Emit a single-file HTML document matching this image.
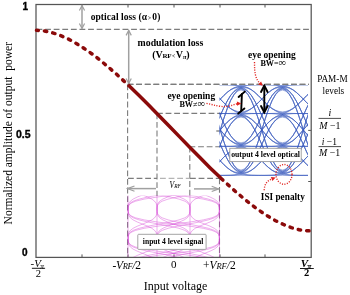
<!DOCTYPE html>
<html><head><meta charset="utf-8"><style>
html,body{margin:0;padding:0;background:#fff;}
svg{display:block;}
text{fill:#000;}
</style></head><body>
<svg width="350" height="295" viewBox="0 0 350 295">
<rect x="36.0" y="4.5" width="275.2" height="252.89999999999998" fill="none" stroke="#555555" stroke-width="1.25"/>
<line x1="82" y1="4.5" x2="82" y2="7.5" stroke="#555555" stroke-width="1"/>
<line x1="82" y1="257.4" x2="82" y2="254.39999999999998" stroke="#555555" stroke-width="1"/>
<line x1="128" y1="4.5" x2="128" y2="7.5" stroke="#555555" stroke-width="1"/>
<line x1="128" y1="257.4" x2="128" y2="254.39999999999998" stroke="#555555" stroke-width="1"/>
<line x1="174" y1="4.5" x2="174" y2="7.5" stroke="#555555" stroke-width="1"/>
<line x1="174" y1="257.4" x2="174" y2="254.39999999999998" stroke="#555555" stroke-width="1"/>
<line x1="220" y1="4.5" x2="220" y2="7.5" stroke="#555555" stroke-width="1"/>
<line x1="220" y1="257.4" x2="220" y2="254.39999999999998" stroke="#555555" stroke-width="1"/>
<line x1="265" y1="4.5" x2="265" y2="7.5" stroke="#555555" stroke-width="1"/>
<line x1="265" y1="257.4" x2="265" y2="254.39999999999998" stroke="#555555" stroke-width="1"/>
<line x1="216.3" y1="131" x2="219.7" y2="131" stroke="#555" stroke-width="1"/>
<line x1="311.2" y1="130.4" x2="308.2" y2="130.4" stroke="#555555" stroke-width="1"/>
<line x1="311.2" y1="181.5" x2="308.2" y2="181.5" stroke="#555555" stroke-width="1"/>
<line x1="36.5" y1="29.4" x2="311" y2="29.4" stroke="#7c7c7c" stroke-width="1.1" stroke-dasharray="5.8 2.8"/>
<line x1="127.6" y1="84.4" x2="309" y2="84.4" stroke="#7c7c7c" stroke-width="1.1" stroke-dasharray="5.8 2.8"/>
<line x1="157" y1="113.4" x2="222" y2="113.4" stroke="#7c7c7c" stroke-width="1.1" stroke-dasharray="5.8 2.8"/>
<line x1="189.5" y1="146.7" x2="222" y2="146.7" stroke="#7c7c7c" stroke-width="1.1" stroke-dasharray="5.8 2.8"/>
<line x1="128" y1="178.4" x2="157" y2="178.4" stroke="#7c7c7c" stroke-width="1.1" stroke-dasharray="5.8 2.8"/>
<line x1="190" y1="178.4" x2="220" y2="178.4" stroke="#7c7c7c" stroke-width="1.1" stroke-dasharray="5.8 2.8"/>
<line x1="127.6" y1="84.4" x2="127.6" y2="257" stroke="#7c7c7c" stroke-width="1.1" stroke-dasharray="5.8 2.8"/>
<line x1="157" y1="113.4" x2="157" y2="196" stroke="#7c7c7c" stroke-width="1.1" stroke-dasharray="5.8 2.8"/>
<line x1="189.8" y1="146.7" x2="189.8" y2="196" stroke="#7c7c7c" stroke-width="1.1" stroke-dasharray="5.8 2.8"/>
<line x1="219.5" y1="178.4" x2="219.5" y2="257" stroke="#7c7c7c" stroke-width="1.1" stroke-dasharray="5.8 2.8"/>
<line x1="157" y1="178.4" x2="190" y2="178.4" stroke="#b4b4b4" stroke-width="1.1" stroke-dasharray="5.8 2.8" stroke-dashoffset="-3"/>
<line x1="82" y1="5.5" x2="82" y2="28.5" stroke="#a0a0a0" stroke-width="1.5"/>
<polyline points="84.6,10.5 82,5.5 79.4,10.5" fill="none" stroke="#a0a0a0" stroke-width="1.2"/>
<polyline points="79.4,23.5 82,28.5 84.6,23.5" fill="none" stroke="#a0a0a0" stroke-width="1.2"/>
<line x1="128.7" y1="30.4" x2="128.7" y2="83.5" stroke="#a0a0a0" stroke-width="1.5"/>
<polyline points="131.3,35.4 128.7,30.4 126.1,35.4" fill="none" stroke="#a0a0a0" stroke-width="1.2"/>
<polyline points="126.1,78.5 128.7,83.5 131.3,78.5" fill="none" stroke="#a0a0a0" stroke-width="1.2"/>
<line x1="127.5" y1="188.6" x2="156" y2="188.6" stroke="#a0a0a0" stroke-width="1.5"/>
<polyline points="134.5,186.0 127.5,188.6 134.5,191.2" fill="none" stroke="#a0a0a0" stroke-width="1.2"/>
<line x1="194" y1="188.9" x2="218.7" y2="188.9" stroke="#a0a0a0" stroke-width="1.5"/>
<polyline points="211.7,191.5 218.7,188.9 211.7,186.3" fill="none" stroke="#a0a0a0" stroke-width="1.2"/>
<defs><clipPath id="cp"><rect x="126" y="195.5" width="96" height="61.5"/></clipPath>
<path id="pseg" d="M128.0 0.0 128.1 2.1 128.3 4.2 128.9 6.3 130.4 8.3 133.1 10.4 137.3 12.5 142.5 14.6 147.7 16.7 151.9 18.8 154.6 20.9 156.1 22.9 156.7 25.0 156.9 27.1 157.0 29.2 M128.1 0.0 128.0 2.1 128.0 4.2 128.0 6.3 128.0 8.3 128.0 10.4 128.0 12.5 128.0 14.6 128.0 16.7 128.0 18.8 128.0 20.9 128.0 22.9 128.0 25.0 128.0 27.1 128.0 29.2 M128.1 0.0 128.2 2.1 128.6 4.2 130.0 6.3 133.1 8.3 139.0 10.4 147.9 12.5 159.0 14.6 170.1 16.7 179.0 18.8 184.9 20.9 188.0 22.9 189.4 25.0 189.8 27.1 189.9 29.2 M128.1 0.0 128.3 2.1 128.9 4.2 130.9 6.3 135.5 8.3 144.2 10.4 157.4 12.5 173.7 14.6 190.1 16.7 203.3 18.8 212.0 20.9 216.6 22.9 218.6 25.0 219.2 27.1 219.4 29.2 M157.0 0.0 156.9 2.1 156.7 4.2 156.1 6.3 154.6 8.3 151.9 10.4 147.7 12.5 142.5 14.6 137.3 16.7 133.1 18.8 130.4 20.9 128.9 22.9 128.3 25.0 128.1 27.1 128.1 29.2 M157.0 0.0 157.0 2.1 157.0 4.2 157.0 6.3 157.0 8.3 157.0 10.4 157.0 12.5 157.0 14.6 157.0 16.7 157.0 18.8 157.0 20.9 157.0 22.9 157.0 25.0 157.0 27.1 157.0 29.2 M157.0 0.0 157.1 2.1 157.3 4.2 158.1 6.3 159.7 8.3 162.8 10.4 167.6 12.5 173.5 14.6 179.4 16.7 184.2 18.8 187.3 20.9 188.9 22.9 189.7 25.0 189.9 27.1 190.0 29.2 M157.1 0.0 157.2 2.1 157.6 4.2 159.0 6.3 162.1 8.3 168.1 10.4 177.1 12.5 188.3 14.6 199.4 16.7 208.4 18.8 214.4 20.9 217.5 22.9 218.9 25.0 219.3 27.1 219.4 29.2 M189.9 0.0 189.8 2.1 189.4 4.2 188.0 6.3 184.9 8.3 179.0 10.4 170.1 12.5 159.0 14.6 147.9 16.7 139.0 18.8 133.1 20.9 130.0 22.9 128.6 25.0 128.2 27.1 128.1 29.2 M190.0 0.0 189.9 2.1 189.7 4.2 188.9 6.3 187.3 8.3 184.2 10.4 179.4 12.5 173.5 14.6 167.6 16.7 162.8 18.8 159.7 20.9 158.1 22.9 157.3 25.0 157.1 27.1 157.1 29.2 M190.0 0.0 190.0 2.1 190.0 4.2 190.0 6.3 190.0 8.3 190.0 10.4 190.0 12.5 190.0 14.6 190.0 16.7 190.0 18.8 190.0 20.9 190.0 22.9 190.0 25.0 190.0 27.1 190.0 29.2 M190.0 0.0 190.1 2.1 190.3 4.2 190.9 6.3 192.4 8.3 195.2 10.4 199.5 12.5 204.7 14.6 210.0 16.7 214.3 18.8 217.1 20.9 218.6 22.9 219.2 25.0 219.4 27.1 219.5 29.2 M219.4 0.0 219.3 2.1 218.6 4.2 216.6 6.3 212.0 8.3 203.3 10.4 190.1 12.5 173.7 14.6 157.4 16.7 144.2 18.8 135.5 20.9 130.9 22.9 128.9 25.0 128.2 27.1 128.1 29.2 M219.4 0.0 219.3 2.1 218.9 4.2 217.5 6.3 214.4 8.3 208.4 10.4 199.4 12.5 188.2 14.6 177.1 16.7 168.1 18.8 162.1 20.9 159.0 22.9 157.6 25.0 157.2 27.1 157.0 29.2 M219.4 0.0 219.4 2.1 219.2 4.2 218.6 6.3 217.1 8.3 214.3 10.4 210.0 12.5 204.7 14.6 199.5 16.7 195.2 18.8 192.4 20.9 190.9 22.9 190.3 25.0 190.1 27.1 190.0 29.2 M219.5 0.0 219.5 2.1 219.5 4.2 219.5 6.3 219.5 8.3 219.5 10.4 219.5 12.5 219.5 14.6 219.5 16.7 219.5 18.8 219.5 20.9 219.5 22.9 219.5 25.0 219.5 27.1 219.4 29.2" fill="none" stroke="#d43cd4" stroke-width="0.55" stroke-opacity="0.75"/></defs>
<g clip-path="url(#cp)">
<use href="#pseg" y="180.3"/>
<use href="#pseg" y="209.5"/>
<use href="#pseg" y="238.7"/>
</g>
<defs><clipPath id="cb"><rect x="219.5" y="85.1" width="88.5" height="90.8"/></clipPath>
<path id="bseg" d="M0.0 84.7 3.5 84.7 6.9 84.7 10.4 84.7 13.8 84.7 17.3 84.7 20.8 84.7 24.2 84.7 27.7 84.7 31.1 84.8 34.6 84.9 38.0 85.1 41.5 85.6 M0.0 85.6 3.5 85.1 6.9 84.9 10.4 84.8 13.8 84.7 17.3 84.7 20.8 84.7 24.2 84.7 27.7 84.8 31.1 84.8 34.6 85.1 38.0 85.6 41.5 86.5 M0.0 85.6 3.5 86.4 6.9 87.7 10.4 89.7 13.8 92.3 17.3 95.5 20.8 99.1 24.2 102.6 27.7 105.9 31.1 108.5 34.6 110.3 38.0 111.4 41.5 111.8 M0.0 86.4 3.5 86.8 6.9 87.9 10.4 89.7 13.8 92.3 17.3 95.6 20.8 99.1 24.2 102.7 27.7 105.9 31.1 108.6 34.6 110.7 38.0 112.3 41.5 113.6 M0.0 86.5 3.5 85.6 6.9 85.1 10.4 84.8 13.8 84.8 17.3 84.7 20.8 84.7 24.2 84.7 27.7 84.8 31.1 84.9 34.6 85.2 38.0 86.0 41.5 87.4 M0.0 86.5 3.5 88.3 6.9 91.1 10.4 95.4 13.8 101.0 17.3 107.9 20.8 115.5 24.2 123.1 27.7 130.0 31.1 135.6 34.6 139.6 38.0 142.0 41.5 142.7 M0.0 87.4 3.5 86.0 6.9 85.2 10.4 84.9 13.8 84.8 17.3 84.7 20.8 84.7 24.2 84.7 27.7 84.7 31.1 84.7 34.6 84.7 38.0 84.7 41.5 84.7 M0.0 87.4 3.5 87.2 6.9 88.1 10.4 89.8 13.8 92.4 17.3 95.6 20.8 99.1 24.2 102.7 27.7 105.9 31.1 108.7 34.6 110.9 38.0 112.7 41.5 114.5 M0.0 87.4 3.5 88.7 6.9 91.3 10.4 95.4 13.8 101.1 17.3 107.9 20.8 115.6 24.2 123.2 27.7 130.1 31.1 135.7 34.6 140.0 38.0 142.8 41.5 144.6 M0.0 87.4 3.5 90.0 6.9 94.2 10.4 100.4 13.8 108.7 17.3 118.9 20.8 130.0 24.2 141.2 27.7 151.3 31.1 159.5 34.6 165.4 38.0 168.9 41.5 170.0 M0.0 88.2 3.5 87.6 6.9 88.2 10.4 89.9 13.8 92.4 17.3 95.6 20.8 99.1 24.2 102.7 27.7 105.9 31.1 108.5 34.6 110.5 38.0 111.8 41.5 112.6 M0.0 88.2 3.5 90.4 6.9 94.3 10.4 100.4 13.8 108.7 17.3 118.9 20.8 130.0 24.2 141.2 27.7 151.4 31.1 159.7 34.6 165.8 38.0 169.7 41.5 171.9 M0.0 88.4 3.5 89.1 6.9 91.5 10.4 95.5 13.8 101.1 17.3 108.0 20.8 115.6 24.2 123.2 27.7 130.1 31.1 135.8 34.6 140.1 38.0 143.2 41.5 145.4 M0.0 89.2 3.5 89.5 6.9 91.7 10.4 95.6 13.8 101.1 17.3 108.0 20.8 115.6 24.2 123.2 27.7 130.0 31.1 135.7 34.6 139.8 38.0 142.4 41.5 143.6 M0.0 89.2 3.5 90.8 6.9 94.5 10.4 100.5 13.8 108.8 17.3 118.9 20.8 130.1 24.2 141.2 27.7 151.4 31.1 159.7 34.6 165.9 38.0 170.1 41.5 172.7 M0.0 90.1 3.5 91.2 6.9 94.7 10.4 100.6 13.8 108.8 17.3 118.9 20.8 130.1 24.2 141.2 27.7 151.3 31.1 159.6 34.6 165.6 38.0 169.3 41.5 170.9 M0.0 111.8 3.5 111.4 6.9 110.3 10.4 108.5 13.8 105.9 17.3 102.6 20.8 99.1 24.2 95.5 27.7 92.3 31.1 89.7 34.6 87.7 38.0 86.4 41.5 85.6 M0.0 112.6 3.5 111.8 6.9 110.5 10.4 108.5 13.8 105.9 17.3 102.7 20.8 99.1 24.2 95.6 27.7 92.3 31.1 89.7 34.6 87.9 38.0 86.8 41.5 86.4 M0.0 112.6 3.5 113.1 6.9 113.3 10.4 113.4 13.8 113.5 17.3 113.5 20.8 113.5 24.2 113.5 27.7 113.5 31.1 113.4 34.6 113.3 38.0 113.1 41.5 112.6 M0.0 113.5 3.5 113.5 6.9 113.5 10.4 113.5 13.8 113.5 17.3 113.5 20.8 113.5 24.2 113.5 27.7 113.5 31.1 113.6 34.6 113.7 38.0 114.0 41.5 114.5 M0.0 113.6 3.5 112.3 6.9 110.7 10.4 108.6 13.8 105.9 17.3 102.7 20.8 99.1 24.2 95.6 27.7 92.4 31.1 89.8 34.6 88.1 38.0 87.2 41.5 87.4 M0.0 113.6 3.5 115.0 6.9 116.8 10.4 119.1 13.8 122.2 17.3 125.9 20.8 129.9 24.2 134.0 27.7 137.6 31.1 140.6 34.6 142.6 38.0 143.6 41.5 143.6 M0.0 114.5 3.5 112.7 6.9 110.9 10.4 108.7 13.8 105.9 17.3 102.7 20.8 99.1 24.2 95.6 27.7 92.4 31.1 89.9 34.6 88.2 38.0 87.6 41.5 88.2 M0.0 114.5 3.5 114.0 6.9 113.7 10.4 113.6 13.8 113.5 17.3 113.5 20.8 113.5 24.2 113.5 27.7 113.6 31.1 113.6 34.6 113.9 38.0 114.4 41.5 115.3 M0.0 114.5 3.5 115.4 6.9 116.9 10.4 119.2 13.8 122.2 17.3 125.9 20.8 129.9 24.2 134.0 27.7 137.7 31.1 140.6 34.6 142.8 38.0 144.0 41.5 144.5 M0.0 114.5 3.5 116.7 6.9 119.8 10.4 124.1 13.8 129.9 17.3 136.8 20.8 144.4 24.2 152.1 27.7 158.9 31.1 164.5 34.6 168.4 38.0 170.6 41.5 170.9 M0.0 115.3 3.5 114.4 6.9 113.9 10.4 113.6 13.8 113.6 17.3 113.5 20.8 113.5 24.2 113.5 27.7 113.5 31.1 113.5 34.6 113.5 38.0 113.5 41.5 113.5 M0.0 115.3 3.5 117.1 6.9 120.0 10.4 124.2 13.8 129.9 17.3 136.8 20.8 144.4 24.2 152.1 27.7 159.0 31.1 164.6 34.6 168.6 38.0 171.0 41.5 171.7 M0.0 115.4 3.5 115.9 6.9 117.1 10.4 119.3 13.8 122.2 17.3 125.9 20.8 130.0 24.2 134.0 27.7 137.7 31.1 140.8 34.6 143.1 38.0 144.9 41.5 146.3 M0.0 116.3 3.5 116.3 6.9 117.3 10.4 119.3 13.8 122.3 17.3 125.9 20.8 130.0 24.2 134.0 27.7 137.7 31.1 140.7 34.6 143.0 38.0 144.5 41.5 145.4 M0.0 116.3 3.5 117.5 6.9 120.2 10.4 124.3 13.8 129.9 17.3 136.8 20.8 144.5 24.2 152.1 27.7 159.0 31.1 164.7 34.6 168.9 38.0 171.8 41.5 173.6 M0.0 117.2 3.5 117.9 6.9 120.3 10.4 124.3 13.8 129.9 17.3 136.8 20.8 144.5 24.2 152.1 27.7 159.0 31.1 164.6 34.6 168.8 38.0 171.4 41.5 172.7 M0.0 142.7 3.5 142.0 6.9 139.6 10.4 135.6 13.8 130.0 17.3 123.1 20.8 115.5 24.2 107.9 27.7 101.0 31.1 95.4 34.6 91.1 38.0 88.3 41.5 86.5 M0.0 143.6 3.5 142.4 6.9 139.8 10.4 135.7 13.8 130.0 17.3 123.2 20.8 115.5 24.2 107.9 27.7 101.1 31.1 95.4 34.6 91.3 38.0 88.7 41.5 87.4 M0.0 143.6 3.5 143.6 6.9 142.6 10.4 140.6 13.8 137.6 17.3 134.0 20.8 129.9 24.2 125.9 27.7 122.2 31.1 119.1 34.6 116.8 38.0 115.0 41.5 113.6 M0.0 144.5 3.5 144.0 6.9 142.8 10.4 140.6 13.8 137.7 17.3 134.0 20.8 129.9 24.2 125.9 27.7 122.2 31.1 119.2 34.6 116.9 38.0 115.4 41.5 114.5 M0.0 144.6 3.5 142.8 6.9 140.0 10.4 135.7 13.8 130.1 17.3 123.2 20.8 115.6 24.2 108.0 27.7 101.1 31.1 95.5 34.6 91.5 38.0 89.1 41.5 88.4 M0.0 144.6 3.5 145.5 6.9 146.0 10.4 146.3 13.8 146.3 17.3 146.4 20.8 146.4 24.2 146.4 27.7 146.3 31.1 146.3 34.6 146.0 38.0 145.5 41.5 144.6 M0.0 145.4 3.5 143.2 6.9 140.1 10.4 135.8 13.8 130.1 17.3 123.2 20.8 115.6 24.2 108.0 27.7 101.1 31.1 95.6 34.6 91.7 38.0 89.5 41.5 89.2 M0.0 145.4 3.5 144.5 6.9 143.0 10.4 140.7 13.8 137.7 17.3 134.0 20.8 130.0 24.2 125.9 27.7 122.2 31.1 119.3 34.6 117.1 38.0 115.9 41.5 115.4 M0.0 145.4 3.5 145.9 6.9 146.2 10.4 146.3 13.8 146.4 17.3 146.4 20.8 146.4 24.2 146.4 27.7 146.4 31.1 146.3 34.6 146.2 38.0 145.9 41.5 145.4 M0.0 145.4 3.5 147.2 6.9 149.1 10.4 151.3 13.8 154.0 17.3 157.3 20.8 160.9 24.2 164.5 27.7 167.6 31.1 170.2 34.6 171.8 38.0 172.5 41.5 171.9 M0.0 146.3 3.5 144.9 6.9 143.1 10.4 140.8 13.8 137.7 17.3 134.0 20.8 130.0 24.2 125.9 27.7 122.3 31.1 119.3 34.6 117.3 38.0 116.3 41.5 116.3 M0.0 146.3 3.5 147.6 6.9 149.2 10.4 151.3 13.8 154.0 17.3 157.3 20.8 160.9 24.2 164.5 27.7 167.7 31.1 170.2 34.6 172.0 38.0 172.9 41.5 172.7 M0.0 146.4 3.5 146.4 6.9 146.4 10.4 146.4 13.8 146.4 17.3 146.4 20.8 146.4 24.2 146.4 27.7 146.4 31.1 146.5 34.6 146.6 38.0 146.8 41.5 147.3 M0.0 147.3 3.5 146.8 6.9 146.6 10.4 146.5 13.8 146.4 17.3 146.4 20.8 146.4 24.2 146.4 27.7 146.4 31.1 146.4 34.6 146.4 38.0 146.4 41.5 146.4 M0.0 147.3 3.5 148.1 6.9 149.4 10.4 151.4 13.8 154.1 17.3 157.3 20.8 160.9 24.2 164.5 27.7 167.7 31.1 170.3 34.6 172.2 38.0 173.3 41.5 173.7 M0.0 148.1 3.5 148.5 6.9 149.6 10.4 151.5 13.8 154.1 17.3 157.3 20.8 160.9 24.2 164.5 27.7 167.7 31.1 170.4 34.6 172.4 38.0 173.7 41.5 174.5 M0.0 170.0 3.5 168.9 6.9 165.4 10.4 159.5 13.8 151.3 17.3 141.2 20.8 130.0 24.2 118.9 27.7 108.7 31.1 100.4 34.6 94.3 38.0 90.4 41.5 88.2 M0.0 170.9 3.5 169.3 6.9 165.6 10.4 159.6 13.8 151.3 17.3 141.2 20.8 130.0 24.2 118.9 27.7 108.8 31.1 100.5 34.6 94.5 38.0 90.8 41.5 89.2 M0.0 170.9 3.5 170.6 6.9 168.4 10.4 164.5 13.8 158.9 17.3 152.1 20.8 144.4 24.2 136.8 27.7 129.9 31.1 124.1 34.6 119.8 38.0 116.7 41.5 114.5 M0.0 171.7 3.5 171.0 6.9 168.6 10.4 164.6 13.8 159.0 17.3 152.1 20.8 144.4 24.2 136.8 27.7 129.9 31.1 124.3 34.6 120.2 38.0 117.5 41.5 116.3 M0.0 171.9 3.5 169.7 6.9 165.8 10.4 159.7 13.8 151.4 17.3 141.2 20.8 130.1 24.2 118.9 27.7 108.8 31.1 100.6 34.6 94.7 38.0 91.2 41.5 90.1 M0.0 171.9 3.5 172.5 6.9 171.8 10.4 170.2 13.8 167.6 17.3 164.5 20.8 160.9 24.2 157.3 27.7 154.0 31.1 151.3 34.6 149.1 38.0 147.2 41.5 145.4 M0.0 172.7 3.5 170.1 6.9 165.9 10.4 159.7 13.8 151.4 17.3 141.2 20.8 130.0 24.2 118.9 27.7 108.7 31.1 100.4 34.6 94.2 38.0 90.0 41.5 87.4 M0.0 172.7 3.5 171.4 6.9 168.8 10.4 164.6 13.8 159.0 17.3 152.1 20.8 144.5 24.2 136.8 27.7 129.9 31.1 124.3 34.6 120.3 38.0 117.9 41.5 117.2 M0.0 172.7 3.5 172.9 6.9 172.0 10.4 170.2 13.8 167.7 17.3 164.5 20.8 160.9 24.2 157.3 27.7 154.0 31.1 151.3 34.6 149.2 38.0 147.6 41.5 146.3 M0.0 172.7 3.5 174.1 6.9 174.9 10.4 175.2 13.8 175.3 17.3 175.4 20.8 175.4 24.2 175.4 27.7 175.3 31.1 175.3 34.6 175.0 38.0 174.5 41.5 173.6 M0.0 173.6 3.5 171.8 6.9 168.9 10.4 164.7 13.8 159.0 17.3 152.1 20.8 144.4 24.2 136.8 27.7 129.9 31.1 124.2 34.6 120.0 38.0 117.1 41.5 115.3 M0.0 173.6 3.5 174.5 6.9 175.0 10.4 175.3 13.8 175.3 17.3 175.4 20.8 175.4 24.2 175.4 27.7 175.4 31.1 175.3 34.6 175.2 38.0 175.0 41.5 174.5 M0.0 173.7 3.5 173.3 6.9 172.2 10.4 170.3 13.8 167.7 17.3 164.5 20.8 160.9 24.2 157.3 27.7 154.1 31.1 151.5 34.6 149.6 38.0 148.5 41.5 148.1 M0.0 174.5 3.5 173.7 6.9 172.4 10.4 170.4 13.8 167.7 17.3 164.5 20.8 160.9 24.2 157.3 27.7 154.1 31.1 151.4 34.6 149.4 38.0 148.1 41.5 147.3 M0.0 174.5 3.5 175.0 6.9 175.2 10.4 175.3 13.8 175.4 17.3 175.4 20.8 175.4 24.2 175.4 27.7 175.4 31.1 175.4 34.6 175.4 38.0 175.4 41.5 175.4 M0.0 175.4 3.5 175.4 6.9 175.4 10.4 175.4 13.8 175.4 17.3 175.4 20.8 175.4 24.2 175.4 27.7 175.3 31.1 175.2 34.6 174.9 38.0 174.1 41.5 172.7" fill="none" stroke="#3a5cc0" stroke-width="0.55" stroke-opacity="0.78"/></defs>
<g clip-path="url(#cb)">
<use href="#bseg" x="199.5"/>
<use href="#bseg" x="241.0"/>
<use href="#bseg" x="282.5"/>
</g>
<line x1="127.6" y1="84.4" x2="309" y2="84.4" stroke="#7c7c7c" stroke-width="1.1" stroke-dasharray="5.8 2.8"/>
<path d="M36.5 30.3 40.5 30.5 44.5 31.0 48.4 31.8 52.4 32.8 56.4 34.0 60.4 35.5 64.3 37.2 68.3 39.1 72.3 41.2 76.3 43.5 80.3 45.9 84.2 48.5 88.2 51.2 92.2 54.1 96.2 57.1 100.2 60.3 104.1 63.5 108.1 66.8 112.1 70.3 116.1 73.8 120.0 77.4 124.0 81.1 128.0 84.8" fill="none" stroke="#8b0a0a" stroke-width="3.5" stroke-linecap="round" stroke-dasharray="2.4 6.1" stroke-dashoffset="0.57"/>
<path d="M128.0 84.8 138.3 94.7 148.6 105.0 158.8 115.4 169.1 126.0 179.4 136.6 189.7 147.2 199.9 157.6 210.2 167.9 220.5 177.8" fill="none" stroke="#8b0a0a" stroke-width="3.5"/>
<path d="M220.5 177.8 224.4 181.5 228.4 185.1 232.3 188.7 236.2 192.1 240.2 195.5 244.1 198.8 248.0 202.0 252.0 205.1 255.9 208.0 259.8 210.8 263.8 213.5 267.7 216.1 271.7 218.5 275.6 220.7 279.5 222.7 283.5 224.5 287.4 226.2 291.3 227.6 295.3 228.8 299.2 229.7 303.1 230.4 307.1 230.8 311.0 230.9" fill="none" stroke="#8b0a0a" stroke-width="3.5" stroke-linecap="round" stroke-dasharray="2.4 6.1" stroke-dashoffset="-0.9"/>
<rect x="229.8" y="148.3" width="71.4" height="13.3" fill="#fff" stroke="#9a9a9a" stroke-width="0.9"/>
<rect x="137.8" y="234.3" width="68.3" height="15.1" rx="0.8" fill="#fff" stroke="#9a9a9a" stroke-width="0.9"/>
<g stroke="#000" stroke-width="1.9" fill="none" stroke-linecap="round">
<line x1="264.3" y1="86" x2="264.3" y2="112"/>
<polyline points="261,92 264.3,85.6 267.6,92"/>
<polyline points="261,106 264.3,112.4 267.6,106"/>
<line x1="241.9" y1="94" x2="241.2" y2="111"/>
<line x1="238.6" y1="97" x2="244.8" y2="91.6"/>
<line x1="238.2" y1="113.6" x2="244.4" y2="108.4"/>
</g>
<g fill="none" stroke="#e0201c" stroke-width="1.35" stroke-dasharray="1.1 1.4">
<path d="M254.5 62 C254.5 72 255 79 260.5 83.8"/>
<path d="M206.5 103.4 C214 105 221 107 226 106.6 C231 106 234 104.5 237.5 103.6"/>
<ellipse cx="284" cy="174.4" rx="8" ry="9.9"/>
<path d="M264.2 190.2 C264.5 185 266 181 272.5 178.8"/>
</g>
<polygon points="258.2,84.6 262.8,85.8 261.1,81.4" fill="#e0201c" stroke="none"/>
<polygon points="237.1,105.8 241.2,103.4 236.9,101.4" fill="#e0201c" stroke="none"/>
<polygon points="272.4,181.1 275.6,177.6 270.9,176.9" fill="#e0201c" stroke="none"/>
<text x="22.6" y="10.4" style="font-family:'Liberation Sans',sans-serif;font-size:10px;font-weight:bold;font-style:normal" text-anchor="start" stroke="#000" stroke-width="0.35">1</text>
<text x="16.0" y="138.4" style="font-family:'Liberation Sans',sans-serif;font-size:10.5px;font-weight:bold;font-style:normal" text-anchor="start" stroke="#000" stroke-width="0.35">0.5</text>
<text x="22.1" y="255.6" style="font-family:'Liberation Sans',sans-serif;font-size:10px;font-weight:bold;font-style:normal" text-anchor="start" stroke="#000" stroke-width="0.35">0</text>
<text transform="translate(11.8,224.4) rotate(-90)" style="font-family:'Liberation Serif',serif;font-size:11.5px;white-space:pre" xml:space="preserve">Normalized amplitude of output  power</text>
<text x="143.7" y="290" style="font-family:'Liberation Serif',serif;font-size:12px">Input voltage</text>
<text x="112.6" y="269" style="font-family:'Liberation Serif',serif;font-size:11.5px;font-weight:normal;font-style:normal" text-anchor="start" textLength="28.4" lengthAdjust="spacing">-<tspan font-style="italic">V<tspan style="font-size:8.5px">RF</tspan>/</tspan>2</text>
<text x="170.9" y="268.2" style="font-family:'Liberation Serif',serif;font-size:11px;font-weight:normal;font-style:normal" text-anchor="start" >0</text>
<text x="202.9" y="269" style="font-family:'Liberation Serif',serif;font-size:11.5px;font-weight:normal;font-style:normal" text-anchor="start" textLength="32.8" lengthAdjust="spacing">+<tspan font-style="italic">V<tspan style="font-size:8.5px">RF</tspan>/</tspan>2</text>
<text x="30.6" y="266.7" style="font-family:'Liberation Serif',serif;font-size:11px;font-weight:normal;font-style:italic" text-anchor="start" >-V</text>
<text x="40.2" y="269.2" style="font-family:'Liberation Serif',serif;font-size:7.5px;font-weight:normal;font-style:italic" text-anchor="start" >π</text>
<line x1="31.9" y1="268.3" x2="45.1" y2="268.3" stroke="#000" stroke-width="0.9"/>
<text x="35.7" y="276.6" style="font-family:'Liberation Serif',serif;font-size:10.5px;font-weight:normal;font-style:normal" text-anchor="start" >2</text>
<text x="300.8" y="266.9" style="font-family:'Liberation Serif',serif;font-size:11px;font-weight:bold;font-style:italic" text-anchor="start" >V</text>
<text x="307.2" y="269.4" style="font-family:'Liberation Serif',serif;font-size:7.5px;font-weight:bold;font-style:italic" text-anchor="start" >π</text>
<line x1="300" y1="268.5" x2="313.8" y2="268.5" stroke="#000" stroke-width="0.9"/>
<text x="304.1" y="276" style="font-family:'Liberation Serif',serif;font-size:10.5px;font-weight:bold;font-style:normal" text-anchor="start" >2</text>
<text x="90.7" y="19.9" style="font-family:'Liberation Serif',serif;font-size:9.5px;font-weight:bold;font-style:normal" text-anchor="start" textLength="69.6" lengthAdjust="spacing">optical loss (α<tspan style="font-size:5.5px" dx="1">&gt;</tspan><tspan dx="1">0)</tspan></text>
<text x="137.6" y="46.4" style="font-family:'Liberation Serif',serif;font-size:9.8px;font-weight:bold;font-style:normal" text-anchor="start" >modulation loss</text>
<text x="152.3" y="57.9" style="font-family:'Liberation Serif',serif;font-size:10px;font-weight:bold;font-style:normal" text-anchor="start" textLength="37.4" lengthAdjust="spacing">(V<tspan style="font-size:7px">RF</tspan><tspan style="font-size:5.5px" dx="0.8">&lt;</tspan><tspan dx="0.8">V</tspan><tspan style="font-size:7px;font-style:italic" dy="1">π</tspan><tspan dy="-1">)</tspan></text>
<text x="248" y="58" style="font-family:'Liberation Serif',serif;font-size:9.5px;font-weight:bold;font-style:normal" text-anchor="start" >eye opening</text>
<text x="260.4" y="66.4" style="font-family:'Liberation Serif',serif;font-size:8.2px;font-weight:bold;font-style:normal" text-anchor="start" >BW<tspan style="font-size:8px;font-weight:normal">=</tspan><tspan style="font-size:10.5px;font-weight:normal">∞</tspan></text>
<text x="167.4" y="99" style="font-family:'Liberation Serif',serif;font-size:9.5px;font-weight:bold;font-style:normal" text-anchor="start" >eye opening</text>
<text x="179.4" y="107.3" style="font-family:'Liberation Serif',serif;font-size:8.2px;font-weight:bold;font-style:normal" text-anchor="start" >BW<tspan style="font-size:8px;font-weight:normal">≠</tspan><tspan style="font-size:10.5px;font-weight:normal">∞</tspan></text>
<text x="260.8" y="199.6" style="font-family:'Liberation Serif',serif;font-size:9.5px;font-weight:bold;font-style:normal" text-anchor="start" textLength="44" lengthAdjust="spacingAndGlyphs">ISI penalty</text>
<text x="231.2" y="157.3" style="font-family:'Liberation Serif',serif;font-size:8px;font-weight:bold;font-style:normal" text-anchor="start" textLength="68.8" lengthAdjust="spacingAndGlyphs">output 4 level optical</text>
<text x="142.8" y="244" style="font-family:'Liberation Serif',serif;font-size:7.9px;font-weight:bold;font-style:normal" text-anchor="start" textLength="60.6" lengthAdjust="spacingAndGlyphs">input 4 level signal</text>
<text x="169.6" y="188.3" style="font-family:'Liberation Serif',serif;font-size:10px;font-weight:normal;font-style:italic" text-anchor="start" textLength="11.2" lengthAdjust="spacingAndGlyphs">V<tspan style="font-size:7px">RF</tspan></text>
<text x="317.2" y="82.4" style="font-family:'Liberation Serif',serif;font-size:9.8px;font-weight:normal;font-style:normal" text-anchor="start" textLength="30.4" lengthAdjust="spacingAndGlyphs">PAM-M</text>
<text x="322.6" y="93.7" style="font-family:'Liberation Serif',serif;font-size:9.8px;font-weight:normal;font-style:normal" text-anchor="start" textLength="21.6" lengthAdjust="spacingAndGlyphs">levels</text>
<text x="329.9" y="115.7" style="font-family:'Liberation Serif',serif;font-size:10px;font-weight:normal;font-style:italic" text-anchor="middle" >i</text>
<line x1="318.5" y1="118.4" x2="341" y2="118.4" stroke="#000" stroke-width="0.7"/>
<text x="319.3" y="129.4" style="font-family:'Liberation Serif',serif;font-size:10px;font-weight:normal;font-style:italic" text-anchor="start" textLength="21.2" lengthAdjust="spacingAndGlyphs">M <tspan font-style="normal">−1</tspan></text>
<text x="321.8" y="144.5" style="font-family:'Liberation Serif',serif;font-size:10px;font-weight:normal;font-style:italic" text-anchor="start" textLength="15.2" lengthAdjust="spacingAndGlyphs">i <tspan font-style="normal">−1</tspan></text>
<line x1="318.5" y1="146.6" x2="341" y2="146.6" stroke="#000" stroke-width="0.7"/>
<text x="319.1" y="156.4" style="font-family:'Liberation Serif',serif;font-size:10px;font-weight:normal;font-style:italic" text-anchor="start" textLength="21.2" lengthAdjust="spacingAndGlyphs">M <tspan font-style="normal">−1</tspan></text>
</svg>
</body></html>
